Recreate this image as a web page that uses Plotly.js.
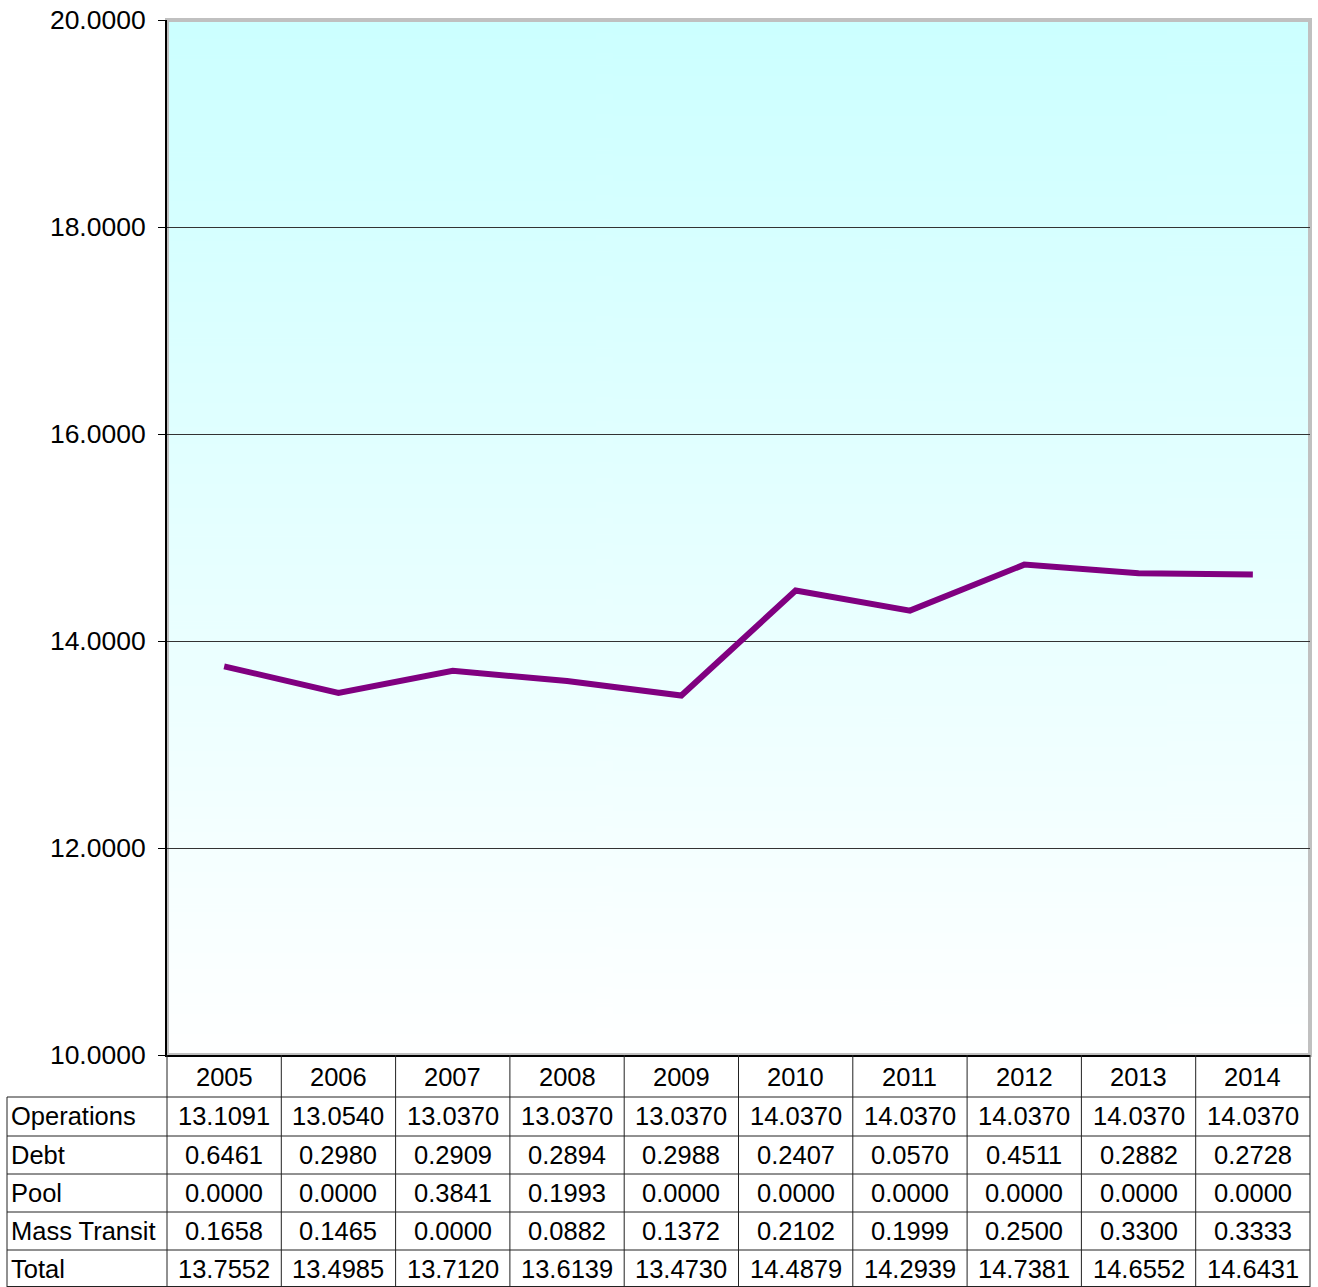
<!DOCTYPE html>
<html>
<head>
<meta charset="utf-8">
<script src="https://cdn.plot.ly/plotly-3.0.1.min.js"></script>
<style>
html,body{margin:0;padding:0;background:#fff;}
#chart{width:1318px;height:1287px;}
</style>
</head>
<body>
<div id="chart"></div>
<script>
// ---- data ----
const years = ['2005','2006','2007','2008','2009','2010','2011','2012','2013','2014'];
const operations  = [13.1091, 13.0540, 13.0370, 13.0370, 13.0370, 14.0370, 14.0370, 14.0370, 14.0370, 14.0370];
const debt        = [0.6461, 0.2980, 0.2909, 0.2894, 0.2988, 0.2407, 0.0570, 0.4511, 0.2882, 0.2728];
const pool        = [0.0000, 0.0000, 0.3841, 0.1993, 0.0000, 0.0000, 0.0000, 0.0000, 0.0000, 0.0000];
const massTransit = [0.1658, 0.1465, 0.0000, 0.0882, 0.1372, 0.2102, 0.1999, 0.2500, 0.3300, 0.3333];
const total       = [13.7552, 13.4985, 13.7120, 13.6139, 13.4730, 14.4879, 14.2939, 14.7381, 14.6552, 14.6431];
const rowLabels   = ['Operations', 'Debt', 'Pool', 'Mass Transit', 'Total'];
const yTickVals   = [10, 12, 14, 16, 18, 20];

// ---- geometry helpers (pixel -> paper) ----
const L = 167, R = 8, T = 20, B = 232, W = 1318, H = 1287;
const PW = W - L - R, PH = H - T - B;
const px = x => (x - L) / PW;
const py = y => (H - B - y) / PH;

const FONT = 'Liberation Sans, Arial, sans-serif';
const TFS = 25.5;

// gradient background image
const cv = document.createElement('canvas');
cv.width = 4; cv.height = 512;
const ctx = cv.getContext('2d');
const g = ctx.createLinearGradient(0, 0, 0, 512);
g.addColorStop(0, '#ccffff');
g.addColorStop(1, '#ffffff');
ctx.fillStyle = g;
ctx.fillRect(0, 0, 4, 512);

const rows = [operations, debt, pool, massTransit, total];
const headerY = 1077;
const rowY = [1116, 1155, 1193, 1231, 1269];
const hLines = [1097, 1136, 1174, 1212, 1250, 1286.5];

const annotations = [];
years.forEach((yr, i) => {
  annotations.push({xref: 'x', yref: 'paper', x: i, y: py(headerY), text: yr,
    showarrow: false, xanchor: 'center', yanchor: 'middle', font: {family: FONT, size: TFS, color: '#000'}});
});
rows.forEach((arr, r) => {
  annotations.push({xref: 'paper', yref: 'paper', x: px(9), y: py(rowY[r]), text: rowLabels[r],
    showarrow: false, xanchor: 'left', yanchor: 'middle', font: {family: FONT, size: TFS, color: '#000'}});
  arr.forEach((v, i) => {
    annotations.push({xref: 'x', yref: 'paper', x: i, y: py(rowY[r]), text: v.toFixed(4),
      showarrow: false, xanchor: 'center', yanchor: 'middle', font: {family: FONT, size: TFS, color: '#000'}});
  });
});

const lineStyle = {color: '#222', width: 1};
const shapes = [
  // grey chart frame
  {type: 'rect', xref: 'paper', yref: 'paper', x0: 0, x1: 1, y0: 0, y1: 1,
   line: {color: '#c0c0c0', width: 4}, layer: 'below'}
];
hLines.forEach(y => {
  shapes.push({type: 'line', xref: 'paper', yref: 'paper', x0: px(7), x1: 1, y0: py(y), y1: py(y), line: lineStyle, layer: 'above'});
});
shapes.push({type: 'line', xref: 'paper', yref: 'paper', x0: px(7), x1: px(7), y0: py(1097), y1: py(1287), line: lineStyle, layer: 'above'});
shapes.push({type: 'line', xref: 'paper', yref: 'paper', x0: 0, x1: 0, y0: 0, y1: py(1287), line: lineStyle, layer: 'above'});
for (let k = 0; k < years.length - 1; k++) {
  shapes.push({type: 'line', xref: 'x', yref: 'paper', x0: k + 0.5, x1: k + 0.5, y0: 0, y1: py(1287), line: lineStyle, layer: 'above'});
}
shapes.push({type: 'line', xref: 'paper', yref: 'paper', x0: 1, x1: 1, y0: 0, y1: py(1287), line: lineStyle, layer: 'above'});

const trace = {
  type: 'scatter', mode: 'lines', x: years, y: total,
  line: {color: '#800080', width: 6}, hoverinfo: 'skip'
};

const layout = {
  width: W, height: H,
  margin: {l: L, r: R, t: T, b: B, pad: 0},
  paper_bgcolor: '#ffffff',
  plot_bgcolor: 'rgba(0,0,0,0)',
  showlegend: false,
  font: {family: FONT, size: 24, color: '#000'},
  xaxis: {
    type: 'category', range: [-0.5, 9.5], showgrid: false, zeroline: false,
    showticklabels: false, ticks: '', showline: true, linecolor: '#000', linewidth: 1.5, fixedrange: true
  },
  yaxis: {
    range: [10, 20], tickvals: yTickVals, tickformat: '.4f',
    showgrid: true, gridcolor: '#333', gridwidth: 1, zeroline: false,
    showline: true, linecolor: '#000', linewidth: 2,
    ticks: 'outside', ticklen: 7, tickwidth: 1, tickcolor: '#000',
    ticklabelstandoff: 7,
    tickfont: {family: FONT, size: 26.5, color: '#000'}, fixedrange: true
  },
  images: [{source: cv.toDataURL(), xref: 'paper', yref: 'paper', x: 0, y: 1, sizex: 1, sizey: 1,
    sizing: 'stretch', xanchor: 'left', yanchor: 'top', layer: 'below'}],
  shapes: shapes,
  annotations: annotations
};

Plotly.newPlot('chart', [trace], layout, {displayModeBar: false, staticPlot: true});
</script>
</body>
</html>
